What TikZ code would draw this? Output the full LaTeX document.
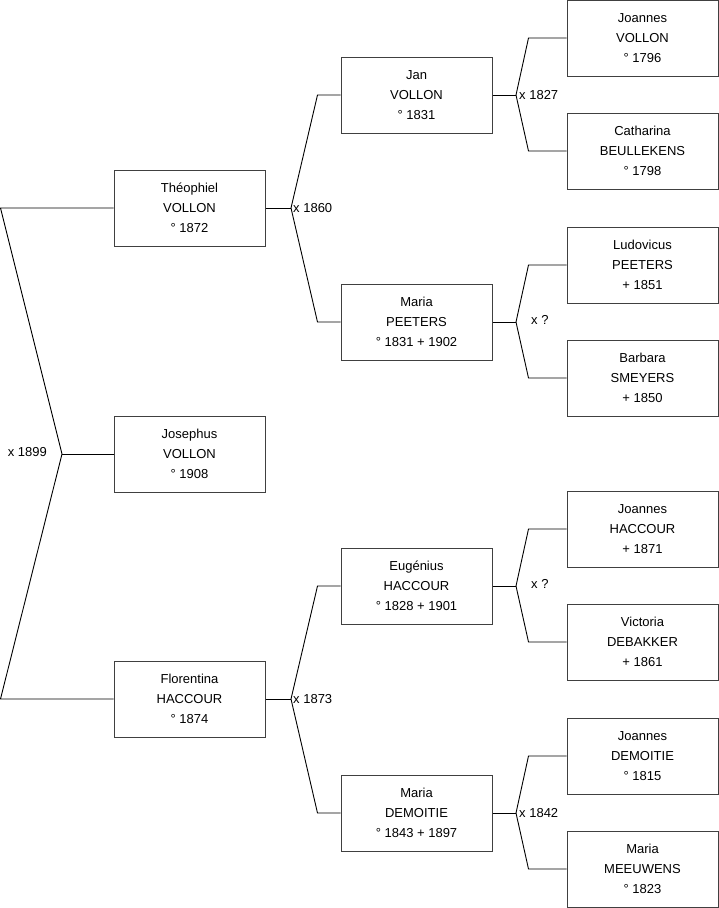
\documentclass[tikz,border=0pt]{standalone}
\usepackage{fontspec}
\setmainfont{Liberation Sans}
\usepackage{tikz}
\usetikzlibrary{positioning,calc}

\begin{document}
\begin{tikzpicture}[
  x=1pt, y=-1pt,
  person/.style={draw=black!75, line width=1pt, fill=white, align=center,
                 font=\fontsize{13}{20}\selectfont, inner sep=0pt,
                 minimum width=151pt, minimum height=76pt},
  link/.style={line width=0.9pt, color=black},
  wed/.style={font=\fontsize{13}{16}\selectfont, inner sep=0pt}
]
\useasboundingbox (0,0) rectangle (719,908);
% generation 1 and 2
\node[person] (theophiel) at (189.5,208) {Théophiel\\VOLLON\\° 1872};
\node[person] (josephus) at (189.5,454) {Josephus\\VOLLON\\° 1908};
\node[person] (florentina) at (189.5,699) {Florentina\\HACCOUR\\° 1874};
% generation 3
\node[person] (jan) at (416.5,95) {Jan\\VOLLON\\° 1831};
\node[person] (mariap) at (416.5,322) {Maria\\PEETERS\\° 1831 + 1902};
\node[person] (eugenius) at (416.5,586) {Eugénius\\HACCOUR\\° 1828 + 1901};
\node[person] (mariad) at (416.5,813) {Maria\\DEMOITIE\\° 1843 + 1897};
% generation 4
\node[person] (joannesv) at (642.5,38) {Joannes\\VOLLON\\° 1796};
\node[person] (catharina) at (642.5,151) {Catharina\\BEULLEKENS\\° 1798};
\node[person] (ludovicus) at (642.5,265) {Ludovicus\\PEETERS\\+ 1851};
\node[person] (barbara) at (642.5,378) {Barbara\\SMEYERS\\+ 1850};
\node[person] (joannesh) at (642.5,529) {Joannes\\HACCOUR\\+ 1871};
\node[person] (victoria) at (642.5,642) {Victoria\\DEBAKKER\\+ 1861};
\node[person] (joannesd) at (642.5,756) {Joannes\\DEMOITIE\\° 1815};
\node[person] (mariam) at (642.5,869) {Maria\\MEEUWENS\\° 1823};

% marriage junctions
\coordinate (x1899) at (62,454);
\coordinate (x1860) at (291,208);
\coordinate (x1873) at (291,699);
\coordinate (x1827) at (516,95);
\coordinate (xpeeters) at (516,322);
\coordinate (xhaccour) at (516,586);
\coordinate (x1842) at (516,813);

\draw[link] (josephus.west) -- (x1899);
\draw[link] (x1899) -- ([xshift=-113pt]theophiel.west) -- (theophiel.west);
\draw[link] (x1899) -- ([xshift=-113pt]florentina.west) -- (florentina.west);
\node[wed, anchor=east] at ([xshift=-15pt,yshift=2pt]x1899) {x 1899};

\draw[link] (theophiel.east) -- (x1860);
\draw[link] (x1860) -- ([xshift=-23pt]jan.west) -- (jan.west);
\draw[link] (x1860) -- ([xshift=-23pt]mariap.west) -- (mariap.west);
\node[wed, anchor=west] at ([xshift=2pt]x1860) {x 1860};

\draw[link] (florentina.east) -- (x1873);
\draw[link] (x1873) -- ([xshift=-23pt]eugenius.west) -- (eugenius.west);
\draw[link] (x1873) -- ([xshift=-23pt]mariad.west) -- (mariad.west);
\node[wed, anchor=west] at ([xshift=2pt]x1873) {x 1873};

\draw[link] (jan.east) -- (x1827);
\draw[link] (x1827) -- ([xshift=-38pt]joannesv.west) -- (joannesv.west);
\draw[link] (x1827) -- ([xshift=-38pt]catharina.west) -- (catharina.west);
\node[wed, anchor=west] at ([xshift=3pt]x1827) {x 1827};

\draw[link] (mariap.east) -- (xpeeters);
\draw[link] (xpeeters) -- ([xshift=-38pt]ludovicus.west) -- (ludovicus.west);
\draw[link] (xpeeters) -- ([xshift=-38pt]barbara.west) -- (barbara.west);
\node[wed, anchor=west] at ([xshift=15pt,yshift=2pt]xpeeters) {x ?};

\draw[link] (eugenius.east) -- (xhaccour);
\draw[link] (xhaccour) -- ([xshift=-38pt]joannesh.west) -- (joannesh.west);
\draw[link] (xhaccour) -- ([xshift=-38pt]victoria.west) -- (victoria.west);
\node[wed, anchor=west] at ([xshift=15pt,yshift=2pt]xhaccour) {x ?};

\draw[link] (mariad.east) -- (x1842);
\draw[link] (x1842) -- ([xshift=-38pt]joannesd.west) -- (joannesd.west);
\draw[link] (x1842) -- ([xshift=-38pt]mariam.west) -- (mariam.west);
\node[wed, anchor=west] at ([xshift=3pt]x1842) {x 1842};
\end{tikzpicture}
\end{document}
